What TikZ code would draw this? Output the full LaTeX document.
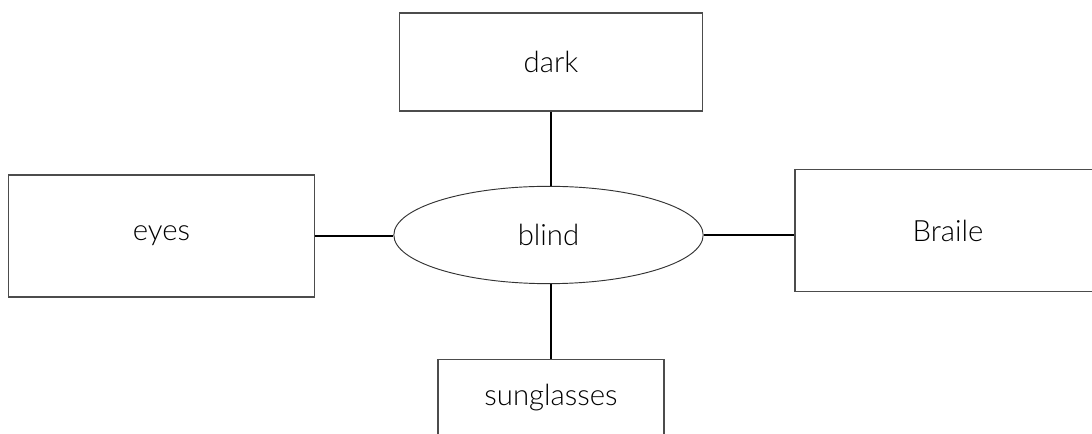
\documentclass[tikz,border=0pt]{standalone}
\usepackage{fontspec}
\setmainfont{Lato}[UprightFont=* Light]
\usetikzlibrary{shapes.geometric}
\begin{document}
\begin{tikzpicture}[x=0.75pt,y=-0.75pt,
  lbl/.style={font=\fontsize{22}{26}\selectfont},
  box/.style={draw=black!70,line width=0.8pt,rectangle,inner sep=0pt,lbl},
  oval/.style={draw=black!80,line width=0.7pt,ellipse,inner sep=0pt,minimum width=232pt,minimum height=73pt,lbl},
  link/.style={draw=black,line width=1.4pt}]
\clip (0,0) rectangle (1092,434);
\fill[white] (0,0) rectangle (1092,434);
\node[box,minimum width=227pt,minimum height=73.5pt] (dark) at (551,62) {dark};
\node[box,minimum width=230pt,minimum height=91.5pt] (eyes) at (161.5,236) {eyes};
\node[box,minimum width=229.5pt,minimum height=92pt] (braile) at (948,230.5) {Braile};
\node[box,minimum width=169.5pt,minimum height=58pt] (sun) at (551,398) {sunglasses};
\node[oval] (blind) at (548.5,235) {blind};
\draw[link] (dark.south) -- (dark.south |- blind.north);
\draw[link] (sun.north) -- (sun.north |- blind.south);
\draw[link] (eyes.east) -- (blind.west |- eyes.east);
\draw[link] (blind.east) -- (braile.west |- blind.east);
\end{tikzpicture}
\end{document}
